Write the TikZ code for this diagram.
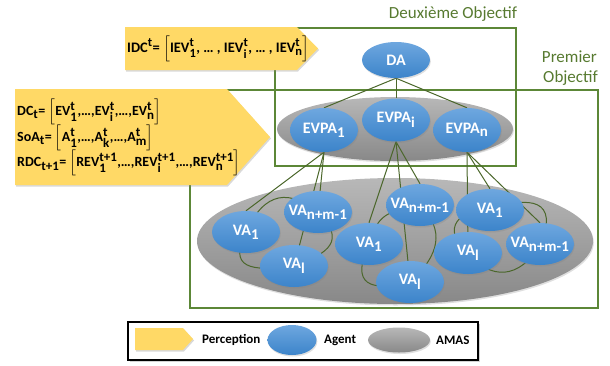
\documentclass[tikz,border=0pt]{standalone}
\usepackage{amsmath}
\usepackage{fontspec}
\setmainfont{Carlito}
\usetikzlibrary{shapes.geometric,shadows}
\DeclareMathSizes{16}{16}{15}{11}
\DeclareMathSizes{14.5}{14.5}{12.5}{9}
\DeclareMathSizes{14}{14}{13}{9}
\definecolor{ygold}{HTML}{FFD966}
\definecolor{bluetop}{HTML}{6EA7DF}
\definecolor{bluebot}{HTML}{3C84CA}
\definecolor{graytop}{HTML}{B8B8B8}
\definecolor{graybot}{HTML}{888888}
\definecolor{objgreen}{HTML}{5C8737}
\definecolor{objtext}{HTML}{577A30}
\definecolor{linkgreen}{HTML}{4B672B}
\pgfdeclarelayer{back}
\pgfdeclarelayer{mid}
\pgfdeclarelayer{front}
\pgfsetlayers{back,mid,main,front}
\newcommand\mysub[1]{$_{\text{#1}}$}
\newcommand\mysup[1]{$^{\text{#1}}$}
\newcommand\mysupsub[2]{$^{\text{#1}}_{\text{#2}}$}
\newcommand\lbr{$\Bigl[$}
\newcommand\rbr{$\Bigr]$}
\tikzset{
  agent/.style={ellipse, inner sep=0pt, top color=bluetop, bottom color=bluebot, draw=none,
    drop shadow={shadow xshift=0.8pt, shadow yshift=-1.5pt, opacity=0.25}},
  agtext/.style={text=white, font=\bfseries\fontsize{16}{19}\selectfont, inner sep=0pt},
  amas/.style={ellipse, inner sep=0pt, top color=graytop, bottom color=graybot, draw=none,
    drop shadow={shadow xshift=0.8pt, shadow yshift=-1.5pt, opacity=0.25}},
  objbox/.style={draw=objgreen, line width=1.6pt},
  objlabel/.style={text=objtext, font=\fontsize{17}{19}\selectfont, inner sep=0pt},
  link/.style={draw=linkgreen, line width=1pt},
  perc/.style={fill=ygold, drop shadow={shadow xshift=1pt, shadow yshift=-1.5pt, opacity=0.3}},
  perctext/.style={font=\bfseries\fontsize{14}{16}\selectfont, inner sep=0pt, anchor=west},
  idctext/.style={font=\bfseries\fontsize{14.5}{17}\selectfont, inner sep=0pt, anchor=west},
  legtext/.style={font=\bfseries\fontsize{13}{15}\selectfont, inner sep=0pt, anchor=west},
}
\begin{document}
\begin{tikzpicture}[x=1pt,y=-1pt]
\useasboundingbox (0,0) rectangle (610,365);

% objective boxes and AMAS ellipses
\begin{pgfonlayer}{back}
  \draw[objbox] (190,90) rectangle (598,308);
  \draw[objbox] (275,28) rectangle (516,166);
  \node[amas, minimum width=236, minimum height=64] (amas1) at (395,129) {};
  \node[amas, minimum width=396, minimum height=126] (amas2) at (395,241) {};
\end{pgfonlayer}

\node[objlabel] (obj2) at (453,14) {Deuxième Objectif};
\node[objlabel, anchor=east] (obj1a) at (597,57) {Premier};
\node[objlabel, anchor=east] (obj1b) at (598,78) {Objectif};

% agents
\node[agent, minimum width=68, minimum height=36] (DA) at (396,60) {};
\node[agent, minimum width=68, minimum height=44] (E1) at (324,130) {};
\node[agent, minimum width=68, minimum height=43] (Ei) at (396,120) {};
\node[agent, minimum width=68, minimum height=44] (En) at (467,130) {};

\node[agent, minimum width=68, minimum height=42] (L1) at (246,232) {};
\node[agent, minimum width=68, minimum height=42] (Ln) at (318,212) {};
\node[agent, minimum width=68, minimum height=42] (Ll) at (294,266) {};
\node[agent, minimum width=68, minimum height=42] (M1) at (369,244) {};
\node[agent, minimum width=68, minimum height=42] (Mn) at (420,205) {};
\node[agent, minimum width=68, minimum height=42] (Ml) at (410,282) {};
\node[agent, minimum width=68, minimum height=42] (R1) at (490,210) {};
\node[agent, minimum width=68, minimum height=42] (Rl) at (468,253) {};
\node[agent, minimum width=68, minimum height=42] (Rn) at (540,244) {};

\node[agtext] at (DA) {DA};
\node[agtext] at (E1) {EVPA\mysub{1}};
\node[agtext] at (Ei) {EVPA\mysub{i}};
\node[agtext] at (En) {EVPA\mysub{n}};
\node[agtext] at (L1) {VA\mysub{1}};
\node[agtext] at (Ln) {VA\mysub{n+m-1}};
\node[agtext] at (Ll) {VA\mysub{l}};
\node[agtext] at (M1) {VA\mysub{1}};
\node[agtext] at (Mn) {VA\mysub{n+m-1}};
\node[agtext] at (Ml) {VA\mysub{l}};
\node[agtext] at (R1) {VA\mysub{1}};
\node[agtext] at (Rl) {VA\mysub{l}};
\node[agtext] at (Rn) {VA\mysub{n+m-1}};

% connectors
\begin{pgfonlayer}{mid}
  \draw[link] (DA.south) -- (E1.north);
  \draw[link] (DA.south) -- (Ei.north);
  \draw[link] (DA.south) -- (En.north);
  \draw[link] (E1.south) -- (L1.north);
  \draw[link] (E1.south) -- (Ln.center);
  \draw[link] (E1.south) -- (Ll.center);
  \draw[link] (Ei.south) -- (M1.north);
  \draw[link] (Ei.south) -- (Mn.north);
  \draw[link] (Ei.south) -- (Ml.center);
  \draw[link] (En.south) -- (R1.north);
  \draw[link] (En.south) -- (Rl.center);
  \draw[link] (En.south) -- (Rn.north);
  % neighbourhood arcs
  \draw[link] (L1.center) .. controls (265,190) and (290,190) .. (Ln.center);
  \draw[link] (L1.center) .. controls (228,268) and (250,272) .. (Ll.center);
  \draw[link] (Ln.center) .. controls (340,235) and (340,250) .. (Ll.center);
  \draw[link] (M1.center) .. controls (378,215) and (385,212) .. (Mn.center);
  \draw[link] (M1.center) .. controls (350,285) and (370,292) .. (Ml.center);
  \draw[link] (Mn.center) .. controls (445,230) and (440,255) .. (Ml.center);
  \draw[link] (R1.center) .. controls (450,210) and (445,235) .. (Rl.center);
  \draw[link] (R1.center) .. controls (530,195) and (560,200) .. (Rn.center);
  \draw[link] (Rl.center) .. controls (490,280) and (520,280) .. (Rn.center);
\end{pgfonlayer}

% perception arrows
\begin{pgfonlayer}{front}
  \path[perc] (125,27) -- (297,27) -- (318,48.5) -- (297,70) -- (125,70) -- cycle;
  \node[idctext] (idc) at (127,48.5) {IDC\mysup{t}= \lbr IEV\mysupsub{t}{1}, … , IEV\mysupsub{t}{i}, … , IEV\mysupsub{t}{n}\rbr};
  \path[perc] (15,89) -- (227,89) -- (270,137) -- (227,185) -- (15,185) -- cycle;
  \node[perctext] (dc) at (17,112) {DC\mysub{t}= \lbr EV\mysupsub{t}{1},…,EV\mysupsub{t}{i},…,EV\mysupsub{t}{n}\rbr};
  \node[perctext] (soa) at (17,138) {SoA\mysub{t}= \lbr A\mysupsub{t}{1},…,A\mysupsub{t}{k},…,A\mysupsub{t}{m}\rbr};
  \node[perctext] (rdc) at (17,163) {RDC\mysub{t+1}= \lbr REV\mysupsub{t+1}{1},…,REV\mysupsub{t+1}{i},…,REV\mysupsub{t+1}{n}\rbr};

  % legend
  \draw[line width=1.5pt, fill=white, drop shadow={shadow xshift=1.5pt, shadow yshift=-1.5pt, opacity=0.35}] (128,322) rectangle (478,360);
  \path[perc] (135,328) -- (183,328) -- (193,339) -- (183,350) -- (135,350) -- cycle;
  \node[legtext] (lp) at (202,340) {Perception};
  \node[agent, minimum width=49, minimum height=30] (la) at (292,340) {};
  \node[legtext] (lat) at (324,340) {Agent};
  \node[amas, minimum width=62, minimum height=25] (lm) at (399,340) {};
  \node[legtext] (lmt) at (436,340) {AMAS};
\end{pgfonlayer}
\end{tikzpicture}
\end{document}
